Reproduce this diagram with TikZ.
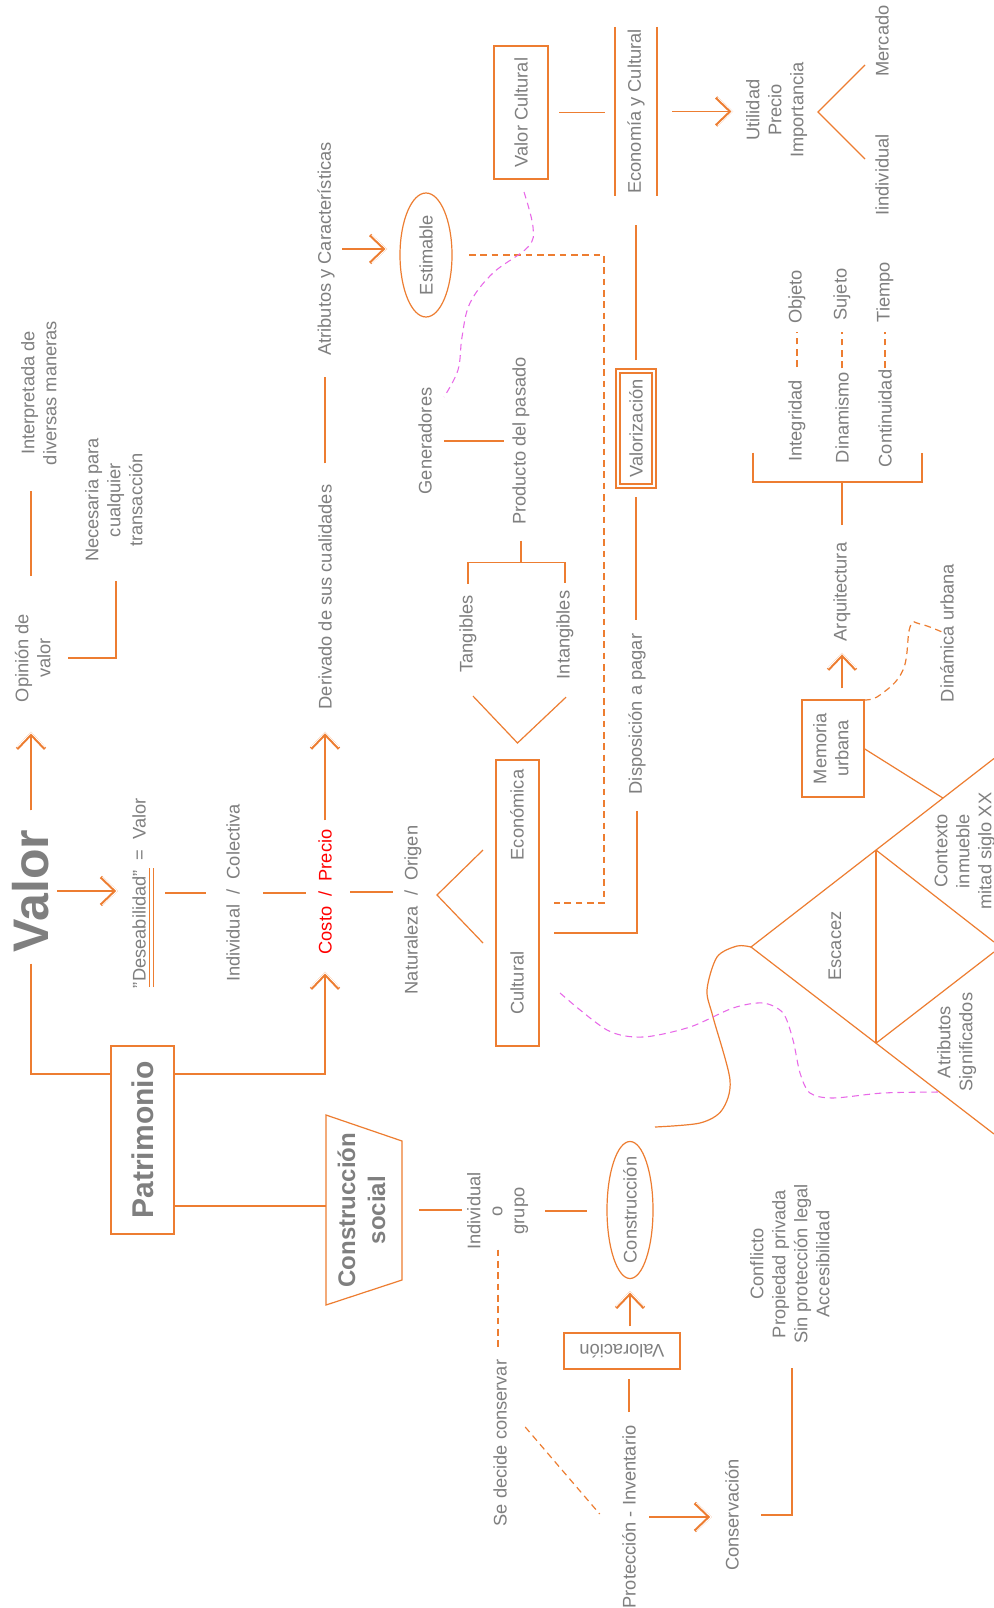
\documentclass[tikz,border=0pt]{standalone}
\usepackage{fontspec}
\setmainfont{Liberation Sans}
\usetikzlibrary{arrows.meta,calc,shapes.geometric}
\definecolor{orl}{RGB}{237,125,49}
\definecolor{tg}{RGB}{127,127,127}
\definecolor{pk}{RGB}{232,104,232}
\definecolor{rd}{RGB}{255,0,0}
\newcommand\myfs{\fontsize{13.7pt}{16.5pt}\selectfont}
\newcommand\mlines[1]{\begin{tabular}{@{}c@{}}#1\end{tabular}}
\newcommand\rtt[1]{\rotatebox{90}{#1}}
\newcommand\arrdraw[2]{%
  \draw[ln,-{Straight Barb[length=11pt,width=21pt,line width'=2.3pt]},#1] #2;
  \draw[ln,-{Straight Barb[length=11pt,width=21pt,line width'=0.7pt,color=white]},#1] #2;}
\begin{document}
\begin{tikzpicture}[x=0.75pt,y=-0.75pt,
  tx/.style={inner sep=0pt,outer sep=0pt,text=tg,font=\myfs},
  ln/.style={draw=orl,line width=0.9pt},
  dsh/.style={ln,dash pattern=on 5pt off 3.5pt},
  pkl/.style={draw=pk,line width=0.8pt,dash pattern=on 5pt off 3.5pt},
  bx/.style={tx,draw=orl,line width=0.9pt},
  el/.style={tx,draw=orl,line width=0.9pt,ellipse},
  gp/.style 2 args={shorten <=#1,shorten >=#2},
]
\fill[white] (0,0) rectangle (994,1608);
\useasboundingbox (0,0) rectangle (994,1608);

% ---------------- nodes ----------------
\node[tx] (valor) at (31,891) {\rtt{\fontsize{37.5pt}{40pt}\selectfont\bfseries Valor}};
\node[tx] (interp) at (41,393) {\rtt{\mlines{Interpretada de\\diversas maneras}}};
\node[tx] (opinion) at (35,658) {\rtt{\mlines{Opinión de\\valor}}};
\node[tx] (necesaria) at (116,500) {\rtt{\mlines{Necesaria para\\cualquier\\transacción}}};
\node[tx] (deseab) at (139,893) {\rtt{"Deseabilidad"~~=~~Valor}};
\node[tx] (indcol) at (233,893) {\rtt{Individual~~/~~Colectiva}};
\node[tx,text=rd] (costo) at (325,892) {\rtt{Costo~~/~~Precio}};
\node[tx] (natur) at (413,910) {\rtt{Naturaleza~~/~~Origen}};
\node[tx] (deriv) at (325,597) {\rtt{Derivado de sus cualidades}};
\node[tx] (atrib) at (326,249) {\rtt{Atributos y Características}};
\node[el,minimum width=39pt,minimum height=93pt] (estim) at (426,255) {\rtt{Estimable}};
\node[tx] (gener) at (425,441) {\rtt{Generadores}};
\node[tx] (producto) at (521,441) {\rtt{Producto del pasado}};
\node[tx] (tang) at (468,634) {\rtt{Tangibles}};
\node[tx] (intang) at (565,635) {\rtt{Intangibles}};
\node[bx,minimum width=32.25pt,minimum height=214.5pt] (ce) at (517.5,903) {};
\node[tx] (econom) at (517,815) {\rtt{Económica}};
\node[tx] (cultural) at (517,983) {\rtt{Cultural}};
\node[bx,minimum width=40.5pt,minimum height=99.75pt] (valcult) at (521,112.5) {\rtt{Valor Cultural}};
\node[tx,minimum width=31.5pt,minimum height=126.75pt] (econ) at (636,111.5) {\rtt{Economía y Cultural}};
\node[tx] (util) at (777,110) {\rtt{\mlines{Utilidad\\Precio\\Importancia}}};
\node[tx] (mercado) at (882,41) {\rtt{Mercado}};
\node[tx] (iindiv) at (882,175) {\rtt{Iindividual}};
\node[tx,draw=orl,line width=0.9pt,double=white,double distance=2.1pt,minimum width=27pt,minimum height=86.25pt] (valoriz) at (636,428.5) {\rtt{Valorización}};
\node[tx] (dispos) at (637,714) {\rtt{Disposición a pagar}};
\node[tx] (integ) at (797,421) {\rtt{Integridad}};
\node[tx] (objeto) at (797,297) {\rtt{Objeto}};
\node[tx] (dinam) at (842,417.5) {\rtt{Dinamismo}};
\node[tx] (sujeto) at (842,294.5) {\rtt{Sujeto}};
\node[tx] (contin) at (885,418.5) {\rtt{Continuidad}};
\node[tx] (tiempo) at (885,292) {\rtt{Tiempo}};
\node[tx] (arquit) at (842,592) {\rtt{Arquitectura}};
\node[bx,minimum width=46.5pt,minimum height=72.75pt] (memoria) at (833,748.5) {\rtt{\mlines{Memoria\\urbana}}};
\node[tx] (dinamica) at (947,633) {\rtt{Dinámica urbana}};
\node[tx] (escacez) at (835,946) {\rtt{Escacez}};
\node[tx] (contexto) at (965,851) {\rtt{\mlines{Contexto\\inmueble\\mitad siglo XX}}};
\node[tx] (atribsig) at (957,1042) {\rtt{\mlines{Atributos\\Significados}}};
\node[bx,minimum width=47.25pt,minimum height=141pt] (patr) at (142.5,1140) {\rtt{\fontsize{22.5pt}{26pt}\selectfont\bfseries Patrimonio}};
\node[tx,minimum width=57pt,minimum height=142.5pt] (csoc) at (364,1210) {\rtt{\fontsize{18pt}{22.5pt}\selectfont\bfseries\mlines{Construcción\\social}}};
\node[tx] (indiv) at (498,1211) {\rtt{\mlines{Individual\\o\\grupo}}};
\node[el,inner sep=-5pt,minimum width=34.5pt,minimum height=102.75pt] (constr) at (630,1210) {\rtt{Construcción}};
\node[bx,minimum width=87pt,minimum height=27pt] (valorac) at (622,1351) {\rotatebox{180}{Valoración}};
\node[tx] (protec) at (629,1517) {\rtt{Protección - Inventario}};
\node[tx] (sedecide) at (500,1443) {\rtt{Se decide conservar}};
\node[tx] (conserv) at (732,1515) {\rtt{Conservación}};
\node[tx] (conflicto) at (792,1264) {\rtt{\mlines{Conflicto\\Propiedad privada\\Sin protección legal\\Accesibilidad}}};

% ---------------- connectors ----------------
\arrdraw{gp={14.6pt}{22.3pt}}{(valor.north) -- (valor.north |- opinion.south)}
\draw[ln,gp={28.3pt}{19.1pt}] (valor.north |- opinion.north) -- (valor.north |- interp.south);
\draw[ln,gp={8.25pt}{14.25pt}] (opinion.east) -| (necesaria.south);
\arrdraw{gp={6pt}{10.9pt}}{(valor.east) -- (valor.east -| deseab.west)}
\draw[orl,line width=0.7pt] ($(deseab.south)+(10,-1)$) -- ++(0,-119);
\draw[orl,line width=0.7pt] ($(deseab.south)+(14,-1)$) -- ++(0,-119);
\draw[ln,gp={14.6pt}{15.4pt}] (deseab.east) -- (deseab.east -| indcol.west);
\draw[ln,gp={17.6pt}{9.4pt}] (indcol.east) -- (indcol.east -| costo.west);
\draw[ln,gp={13.9pt}{8.6pt}] (costo.east) -- (costo.east -| natur.west);
\arrdraw{gp={7.1pt}{16.9pt}}{(costo.north) -- (costo.north |- deriv.south)}
\draw[ln,gp={16.1pt}{15.75pt}] (deriv.north) -- (deriv.north |- atrib.south);
\arrdraw{gp={5.6pt}{9.75pt}}{(atrib.east) -- (atrib.east -| estim.west)}
\draw[ln,shorten <=8.6pt] (valor.south) |- ([yshift=49.5pt]patr.west);
\arrdraw{shorten >=13.1pt}{([yshift=49.5pt]patr.east) -| (costo.south)}
\coordinate (p2) at ([yshift=-49.5pt]patr.east);
\draw[ln] (p2) -- (p2 -| csoc.west);
\draw[ln] (csoc.north west) -- ([yshift=-19.5pt]csoc.north east) -- ([yshift=18.75pt]csoc.south east) -- (csoc.south west) -- cycle;
\draw[ln,gp={12.75pt}{2.25pt}] (csoc.east) -- (csoc.east -| indiv.west);
\draw[ln,gp={10.5pt}{15pt}] (indiv.east) -- (indiv.east -| constr.west);
\arrdraw{gp={5.25pt}{9.4pt}}{(constr.south |- valorac.north) -- (constr.south)}
\draw[ln,gp={10.1pt}{7.5pt}] (protec.north) -- (protec.north |- valorac.south);
\arrdraw{gp={10.1pt}{10.1pt}}{(protec.east) -- (protec.east -| conserv.west)}
\draw[ln,gp={16.9pt}{18.4pt}] (conserv.east) -| (conflicto.south);
\draw[dsh,shorten >=9.4pt] (indiv.south) -- (indiv.south |- sedecide.north);
\draw[dsh] ($(sedecide.east)+(18.5,-16)$) -- ($(protec.west)+(-22.5,-3)$);
\draw[ln,gp={9.4pt}{6.4pt}] (gener.east) -- (gener.east -| producto.west);
\coordinate (brk) at ([yshift=24.4pt]tang.north);
\draw[ln] ([yshift=8.6pt]tang.north) -- (brk) -| ([yshift=6pt]intang.north);
\draw[ln,shorten <=12pt] (producto.south) -- (producto.south |- brk);
\draw[ln] ([shift={(5,23.5)}]tang.south) -- ([yshift=12.75pt]ce.north) -- ([shift={(1,18)}]intang.south);
\draw[ln] ([shift={(-13,-53)}]ce.west) -- ([shift={(-59,-8)}]ce.west) -- ([shift={(-13,40)}]ce.west);
\draw[ln,gp={12.4pt}{11.25pt}] (dispos.south) |- ([yshift=-22.5pt]ce.east);
\draw[dsh,gp={12.75pt}{11.25pt}] (estim.east) -- ++(152,0) |- (ce.east);
\draw[ln,gp={8.25pt}{21.75pt}] (valoriz.north) -- (valoriz.north |- econ.south);
\draw[ln,gp={8.25pt}{10.1pt}] (valoriz.south) -- (valoriz.south |- dispos.north);
\draw[ln] (econ.north west) -- (econ.south west);
\draw[ln] (econ.north east) -- (econ.south east);
\draw[ln,gp={8.25pt}{7.5pt}] (valcult.east) -- (valcult.east -| econ.west);
\arrdraw{gp={11.25pt}{8.25pt}}{(econ.east) -- (econ.east -| util.west)}
\draw[ln] ([shift={(55,-45)}]util.east) -- ([shift={(8,2)}]util.east) -- ([shift={(55,49)}]util.east);
\draw[dsh,gp={10pt}{6pt}] (integ.north) -- (integ.north |- objeto.south);
\draw[dsh,gp={2.8pt}{8.6pt}] (dinam.north) -- (dinam.north |- sujeto.south);
\draw[dsh,gp={1.3pt}{7.1pt}] (contin.north) -- (contin.north |- tiempo.south);
\coordinate (brk2) at ([yshift=45.5pt]arquit.north);
\draw[ln,shorten <=13.2pt] (arquit.north) -- (brk2);
\draw[ln] ([shift={(-44,-9)}]integ.south) |- (brk2) -| ([shift={(37,-14)}]contin.south);
\arrdraw{gp={9pt}{8.7pt}}{(arquit.south |- memoria.north) -- (arquit.south)}
\draw[dsh] plot[smooth,tension=0.7] coordinates {(memoria.north east) (880,695) (903,670) (910,627) (920,624) (942,632)};

% ---------------- triangle ----------------
\coordinate (tA) at (751,947);
\coordinate (tU) at (994,758.5);
\coordinate (tL) at (994,1134);
\coordinate (vU) at ($(tA)!0.5144!(tU)$);
\coordinate (vL) at ($(tA)!0.5144!(tL)$);
\draw[ln] (tU) -- (tA) -- (tL);
\draw[ln] (vU) -- (vL);
\draw[ln] (vU) -- (994,942);
\draw[ln] (vL) -- (994,952);
\draw[ln] (memoria.east) -- ($(tA)!0.79!(tU)$);

% ---------------- curves ----------------
\draw[ln] plot[smooth] coordinates {(751,947) (737,946) (717,957) (707,990) (713,1017) (730,1080) (722,1110) (700,1123) (655,1127)};
\draw[pkl] plot[smooth,tension=0.6] coordinates {(524,192) (533,227) (528,247) (493,273) (470,303) (462,337) (458,370) (444,397)};
\draw[pkl] plot[smooth] coordinates {(560,993) (607,1030) (643,1037) (690,1027) (733,1008) (763,1003) (783,1013) (793,1040) (800,1073) (810,1093) (833,1098) (883,1093) (940,1092)};
\end{tikzpicture}
\end{document}
